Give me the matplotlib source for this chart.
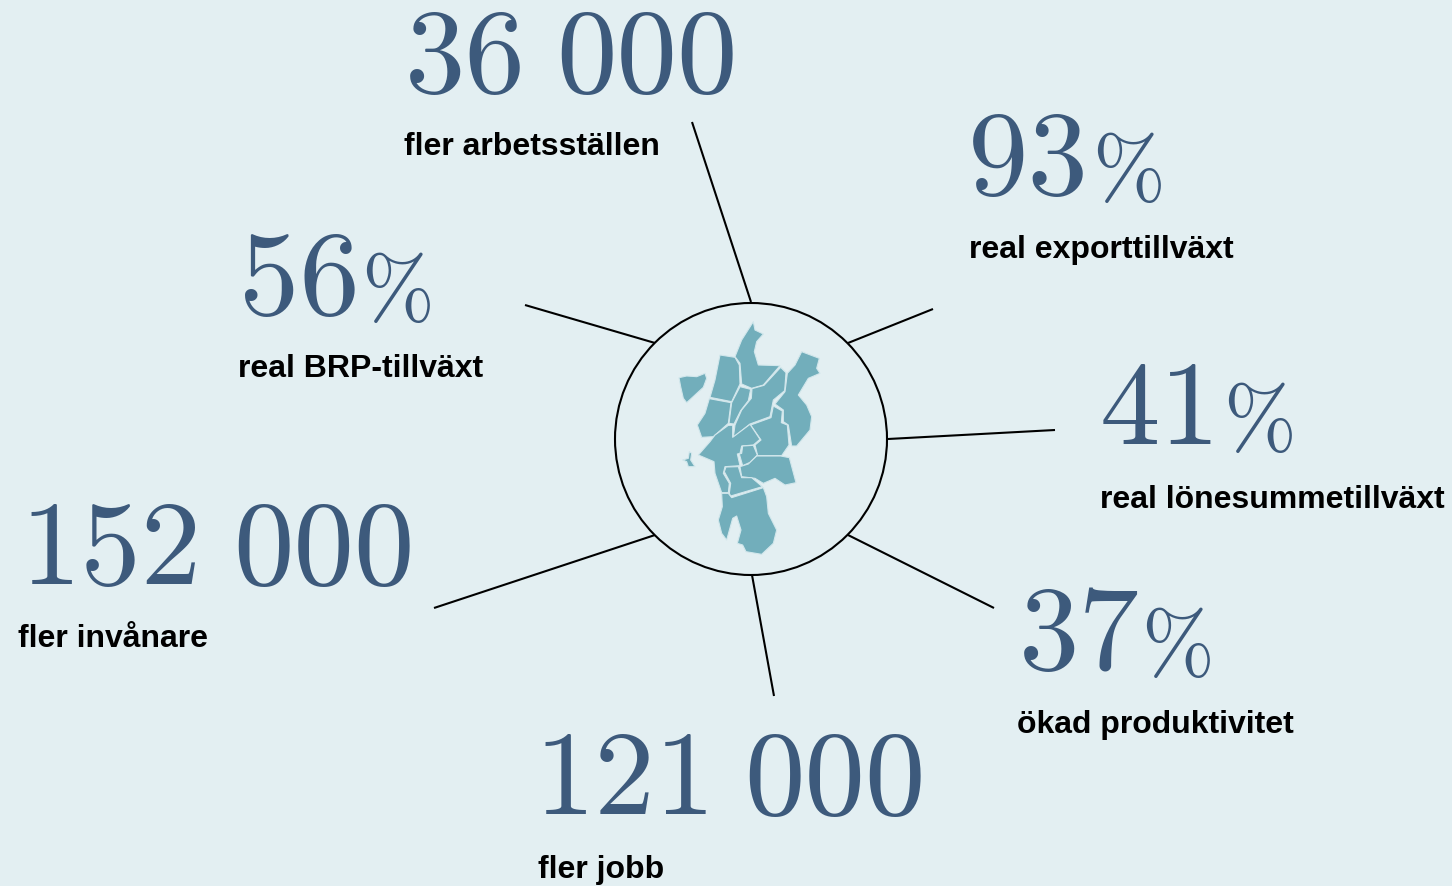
import matplotlib
matplotlib.use("Agg")
import matplotlib.pyplot as plt
from matplotlib.patches import Polygon, Circle

BG = "#E3EFF2"
BLUE = "#3D5A7C"
MAP = "#72AEBB"
EDGE = "#D2E7EC"

# value text, unit, caption
numbers = ["36", "93", "41", "37", "121", "152", "56"]
tails = ["000", "%", "%", "%", "000", "000", "%"]
captions = ["fler arbetsställen", "real exporttillväxt", "real lönesummetillväxt",
            "ökad produktivitet", "fler jobb", "fler invånare", "real BRP-tillväxt"]

# layout in pixels: number x, tail x, number baseline, caption x, caption baseline
num_x = [405, 968, 1100, 1019, 534, 20, 239]
tail_x = [556, 1092, 1223, 1141, 744, 233, 361]
num_y = [92, 194, 444, 669, 814, 584, 314]
cap_x = [404, 969, 1100, 1017, 538, 18, 238]
cap_y = [155, 258, 508, 733, 878, 647, 377]

spokes = [((692, 122), (751, 302)), ((848, 343), (933, 309)), ((888, 439), (1055, 430)),
          ((848, 535), (994, 608)), ((752, 575), (774, 696)), ((655, 535), (434, 608)),
          ((655, 343), (525, 305))]

# map regions, traced in a 3x crop whose origin is (660, 310)
regions = [
    [(57,203),(80,198),(110,200),(135,190),(140,205),(130,232),(105,255),(80,278),(70,265),(62,230)],
    [(280,35),(285,60),(310,72),(290,95),(283,125),(295,165),(360,167),(310,225),(275,235),(245,222),(240,160),(225,140),(245,90)],
    [(180,135),(225,142),(238,165),(240,222),(215,275),(150,262),(165,210)],
    [(148,266),(213,278),(205,340),(160,380),(125,382),(112,345),(135,310)],
    [(215,278),(240,230),(272,238),(265,272),(242,302),(222,342),(207,340)],
    [(362,172),(378,188),(374,242),(340,270),(330,320),(270,342),(220,382),(225,345),(245,300),(274,265),(276,236),(312,226)],
    [(425,125),(478,145),(470,175),(480,190),(445,205),(415,255),(440,285),(455,320),(450,360),(410,408),(395,408),(385,345),(370,335),(370,300),(345,282),(375,245),(382,190),(405,165)],
    [(340,288),(367,303),(364,338),(382,345),(387,405),(365,437),(293,437),(285,405),(303,390),(272,345),(333,323)],
    [(205,346),(218,346),(218,382),(270,343),(300,388),(280,405),(245,408),(240,430),(232,432),(240,467),(195,470),(190,490),(208,520),(205,548),(185,548),(165,490),(162,455),(115,435),(150,395),(165,375)],
    [(248,408),(280,406),(292,435),(270,457),(248,467),(238,432),(245,430)],
    [(290,438),(362,438),(388,443),(408,518),(375,525),(345,505),(310,520),(285,505),(245,500),(240,470),(265,462)],
    [(198,471),(235,470),(245,503),(275,503),(307,530),(212,558),(208,550),(212,520),(193,485)],
    [(185,550),(205,550),(215,563),(310,533),(320,560),(325,610),(350,660),(340,700),(305,733),(258,725),(248,705),(232,700),(243,660),(230,618),(218,625),(200,690),(185,670),(175,630),(187,590)],
    [(88,425),(95,430),(92,450),(105,470),(85,470),(80,455),(68,450),(85,445)],
]

fig = plt.figure(figsize=(14.52, 8.86), dpi=100, facecolor=BG)
ax = fig.add_axes([0, 0, 1, 1])
ax.set_xlim(0, 1452)
ax.set_ylim(886, 0)
ax.axis("off")

ax.add_patch(Circle((751, 439), 136, fc="none", ec="black", lw=1.5))
for a, b in spokes:
    ax.plot([a[0], b[0]], [a[1], b[1]], color="black", lw=1.5, solid_capstyle="butt")

for reg in regions:
    pts = [(660 + x / 3, 310 + y / 3) for x, y in reg]
    ax.add_patch(Polygon(pts, closed=True, fc=MAP, ec=EDGE, lw=0.8, joinstyle="round"))

for i, cap in enumerate(captions):
    ax.text(num_x[i], num_y[i], numbers[i], family="cmr10", fontsize=87, color=BLUE,
            ha="left", va="baseline")
    is_pct = tails[i] == "%"
    ax.text(tail_x[i], num_y[i] + (4 if is_pct else 0), tails[i], family="cmr10",
            fontsize=63 if is_pct else 87, color=BLUE, ha="left", va="baseline")
    ax.text(cap_x[i], cap_y[i], cap, family="Liberation Sans", fontweight="bold",
            fontsize=23, color="black", ha="left", va="baseline")

fig.savefig("out.png", dpi=100, facecolor=BG)
